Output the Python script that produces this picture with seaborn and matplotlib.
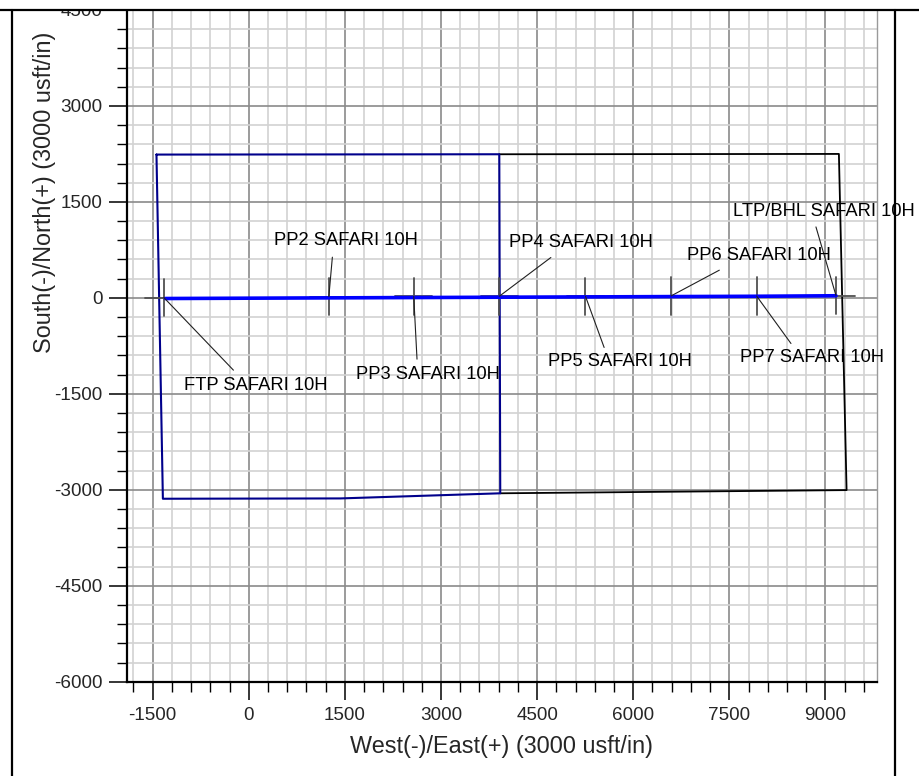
import numpy as np
import pandas as pd
import matplotlib
matplotlib.use("Agg")
import matplotlib.pyplot as plt
from matplotlib.lines import Line2D
from matplotlib.patches import Rectangle
from matplotlib.ticker import MultipleLocator
import seaborn as sns

# well targets (East, North) in usft
target_names = ["FTP SAFARI 10H", "PP2 SAFARI 10H", "PP3 SAFARI 10H", "PP4 SAFARI 10H",
                "PP5 SAFARI 10H", "PP6 SAFARI 10H", "PP7 SAFARI 10H", "LTP/BHL SAFARI 10H"]
target_east = [-1325, 1250, 2575, 3910, 5255, 6590, 7925, 9165]
target_north = [5, 20, 22, 25, 25, 30, 30, 35]

# planned wellbore
path_east = [-1300, 1250, 2575, 3910, 5255, 6590, 7925, 9165]
path_north = [-10, 0, 5, 10, 15, 20, 25, 33]

# lease boundaries
lease1_east = [-1440, 3910, 3925, 1430, -1340, -1440]
lease1_north = [2240, 2245, -3055, -3135, -3140, 2240]
lease2_east = [3910, 9210, 9330, 3925]
lease2_north = [2245, 2250, -3005, -3055]

# label placement (text anchor, leader end)
label_x = [-1003, 390, 1679, 4065, 4673, 6836, 7667, 7563]
label_y = [-1364, 891, -1192, 859, -1000, 667, -931, 1344]
leader_x = [-239, 1305, 2626, 4715, 5546, 7344, 8462, 8852]
leader_y = [-1130, 636, -958, 631, -775, 433, -713, 1109]

sns.set_theme(style="white")
plt.rcParams['font.family'] = ['Liberation Sans', 'DejaVu Sans']
plt.rcParams['axes.unicode_minus'] = False

fig = plt.figure(figsize=(9.19, 7.76), dpi=100)
ax = fig.add_axes([127 / 919, 1 - 681.7 / 776, 749.7 / 919, 671.7 / 776])

ax.set_xlim(-1900, 9800)
ax.set_ylim(-6000, 4500)

ax.xaxis.set_major_locator(MultipleLocator(1500))
ax.xaxis.set_minor_locator(MultipleLocator(300))
ax.yaxis.set_major_locator(MultipleLocator(1500))
ax.yaxis.set_minor_locator(MultipleLocator(300))
ax.grid(which="minor", color="#d2d2d2", lw=1.2, zorder=0)
ax.grid(which="major", color="#8a8a8a", lw=1.2, zorder=0)
ax.set_axisbelow(True)

for side in ["left", "bottom"]:
    ax.spines[side].set_color("black")
    ax.spines[side].set_linewidth(1.6)
ax.spines["top"].set_visible(False)
ax.spines["right"].set_color("#9a9a9a")
ax.spines["right"].set_linewidth(1.0)

ax.tick_params(which="major", direction="out", length=13.3, width=1.1, color="black",
               labelsize=13.6, pad=4.3, left=True, bottom=True)
ax.tick_params(which="minor", direction="out", length=7, width=1.0, color="black",
               left=True, bottom=True)
ax.tick_params(axis="x", which="major", pad=5.0)

# lease lines
lease1 = pd.DataFrame({"e": lease1_east, "n": lease1_north})
lease2 = pd.DataFrame({"e": lease2_east, "n": lease2_north})
sns.lineplot(data=lease2, x="e", y="n", sort=False, estimator=None, color="black",
             lw=1.3, ax=ax, zorder=2)
sns.lineplot(data=lease1, x="e", y="n", sort=False, estimator=None, color="#00008b",
             lw=1.5, ax=ax, zorder=3)

# target crosses
half = 290
for e, n in zip(target_east, target_north):
    ax.plot([e - half, e + half], [n, n], color="#505050", lw=1.3, zorder=3)
    ax.plot([e, e], [n - half, n + half], color="#505050", lw=1.3, zorder=3)

# wellbore
path = pd.DataFrame({"e": path_east, "n": path_north})
sns.lineplot(data=path, x="e", y="n", sort=False, estimator=None, color="#0000ff",
             lw=2.6, ax=ax, zorder=4)

# labels with leader lines
for name, e, n, lx, ly, tx, ty in zip(target_names, target_east, target_north,
                                      leader_x, leader_y, label_x, label_y):
    ax.plot([e, lx], [n, ly], color="#202020", lw=0.8, zorder=5)
    ax.text(tx, ty, name, fontsize=13.2, ha="left", va="center", color="black",
            zorder=6, clip_on=False)

ax.set_xlabel("West(-)/East(+) (3000 usft/in)", fontsize=16.8)
ax.set_ylabel("South(-)/North(+) (3000 usft/in)", fontsize=16.8)
ax.xaxis.set_label_coords(0.5, (681.7 - 746.7) / 671.7)
ax.xaxis.label.set_va("center")
ax.yaxis.set_label_coords((45 - 127) / 749.7, (681.7 - 192.5) / 671.7)
ax.yaxis.label.set_va("center")

# sheet border
fig.add_artist(Rectangle((0, 1 - 9 / 776), 1, 9 / 776, transform=fig.transFigure,
                         facecolor="white", edgecolor="none", zorder=10))
fig.add_artist(Line2D([0, 1], [1 - 10 / 776, 1 - 10 / 776], transform=fig.transFigure,
                      color="black", lw=1.6, zorder=11))
fig.add_artist(Line2D([11.7 / 919, 11.7 / 919], [0, 1 - 10 / 776], transform=fig.transFigure,
                      color="black", lw=1.6, zorder=11))
fig.add_artist(Line2D([895 / 919, 895 / 919], [0, 1 - 10 / 776], transform=fig.transFigure,
                      color="black", lw=1.6, zorder=11))

fig.savefig("out.png", dpi=100)
